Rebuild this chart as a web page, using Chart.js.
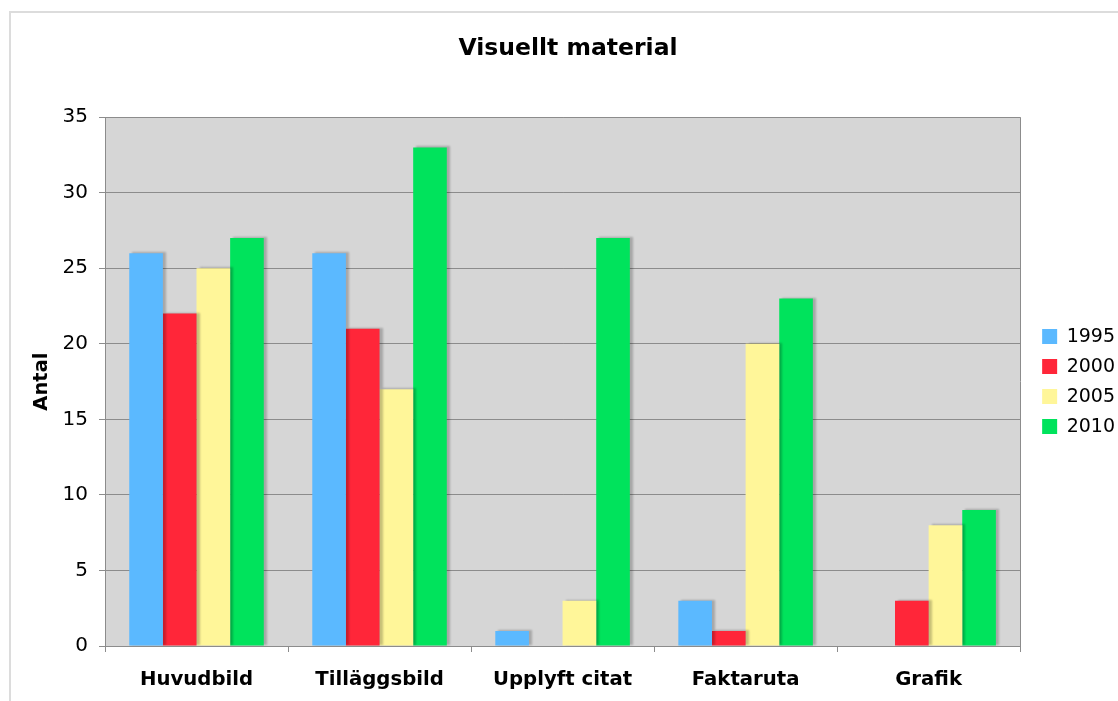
<!DOCTYPE html>
<html>
<head>
<meta charset="utf-8">
<script src="https://cdn.jsdelivr.net/npm/chart.js@4.4.1/dist/chart.umd.min.js"></script>
<style>
html,body{margin:0;padding:0;background:#fff;}
canvas{display:block;}
</style>
</head>
<body>
<canvas id="c" width="1118" height="701"></canvas>
<script>
const categories = ['Huvudbild', 'Tilläggsbild', 'Upplyft citat', 'Faktaruta', 'Grafik'];
const seriesNames = ['1995', '2000', '2005', '2010'];
const values1995 = [26, 26, 1, 3, 0];
const values2000 = [22, 21, 0, 1, 3];
const values2005 = [25, 17, 3, 20, 8];
const values2010 = [27, 33, 27, 23, 9];
const colors = ['#5bb9ff', '#ff2639', '#fff699', '#00e35c'];
const titleText = 'Visuellt material';
const yTitle = 'Antal';

const FONT = "'DejaVu Sans', Verdana, sans-serif";
const GRID = '#8c8c8c';

const decor = {
  id: 'decor',
  beforeDraw(chart) {
    const ctx = chart.ctx, a = chart.chartArea;
    ctx.save();
    // outer frame (top and left edges)
    ctx.strokeStyle = '#dcdcdc';
    ctx.lineWidth = 2;
    ctx.beginPath();
    ctx.moveTo(10, 701);
    ctx.lineTo(10, 12);
    ctx.lineTo(1118, 12);
    ctx.stroke();
    // plot background
    ctx.fillStyle = '#d6d6d6';
    ctx.fillRect(a.left, a.top, a.right - a.left, a.bottom - a.top);
    ctx.strokeStyle = GRID;
    ctx.lineWidth = 1;
    ctx.beginPath();
    ctx.moveTo(Math.round(a.right) + 0.5, a.top);
    ctx.lineTo(Math.round(a.right) + 0.5, a.bottom);
    ctx.stroke();
    ctx.restore();
  },
  beforeDatasetsDraw(chart) {
    const ctx = chart.ctx;
    ctx.save();
    ctx.shadowColor = 'rgba(0,0,0,0.22)';
    ctx.shadowOffsetX = 3;
    ctx.shadowOffsetY = -1;
    ctx.shadowBlur = 2;
  },
  afterDatasetsDraw(chart) {
    chart.ctx.restore();
  }
};

const seriesValues = [values1995, values2000, values2005, values2010];

new Chart(document.getElementById('c'), {
  type: 'bar',
  data: {
    labels: categories,
    datasets: seriesNames.map((n, i) => ({
      label: n,
      data: seriesValues[i],
      backgroundColor: colors[i],
      borderWidth: 0,
      categoryPercentage: 0.735,
      barPercentage: 1.0
    }))
  },
  options: {
    responsive: false,
    animation: false,
    devicePixelRatio: 1,
    layout: { padding: { left: 11, right: -7, top: 0, bottom: 0 } },
    plugins: {
      title: {
        display: true,
        text: titleText,
        color: '#000',
        font: { family: FONT, size: 23.5, weight: 'bold', lineHeight: 1.2 },
        padding: { top: 35, bottom: 54 }
      },
      legend: {
        position: 'right',
        fullSize: false,
        labels: {
          color: '#000',
          font: { family: FONT, size: 19 },
          boxWidth: 15,
          boxHeight: 15,
          padding: 11
        }
      },
      tooltip: { enabled: false }
    },
    scales: {
      x: {
        grid: { display: true, drawOnChartArea: false, drawTicks: true, tickLength: 6, color: GRID, offset: true },
        border: { display: true, color: GRID },
        ticks: { color: '#000', font: { family: FONT, size: 19.7, weight: 'bold' }, padding: 16, maxRotation: 0 },
        afterFit(s) { s.height = 55; }
      },
      y: {
        min: 0,
        max: 35,
        ticks: { stepSize: 5, color: '#000', font: { family: FONT, size: 20 }, padding: 11 },
        grid: { color: GRID, tickLength: 6 },
        border: { display: true, color: GRID },
        title: {
          display: true,
          text: yTitle,
          color: '#000',
          font: { family: FONT, size: 19.5, weight: 'bold' },
          padding: { top: 19, bottom: 0 }
        },
        afterFit(s) { s.width = 94; }
      },
      gap: {
        position: 'right',
        display: true,
        grid: { display: false, drawTicks: false },
        border: { display: false },
        ticks: { display: false },
        afterFit(s) { s.width = 11; }
      }
    }
  },
  plugins: [decor]
});
</script>
</body>
</html>
